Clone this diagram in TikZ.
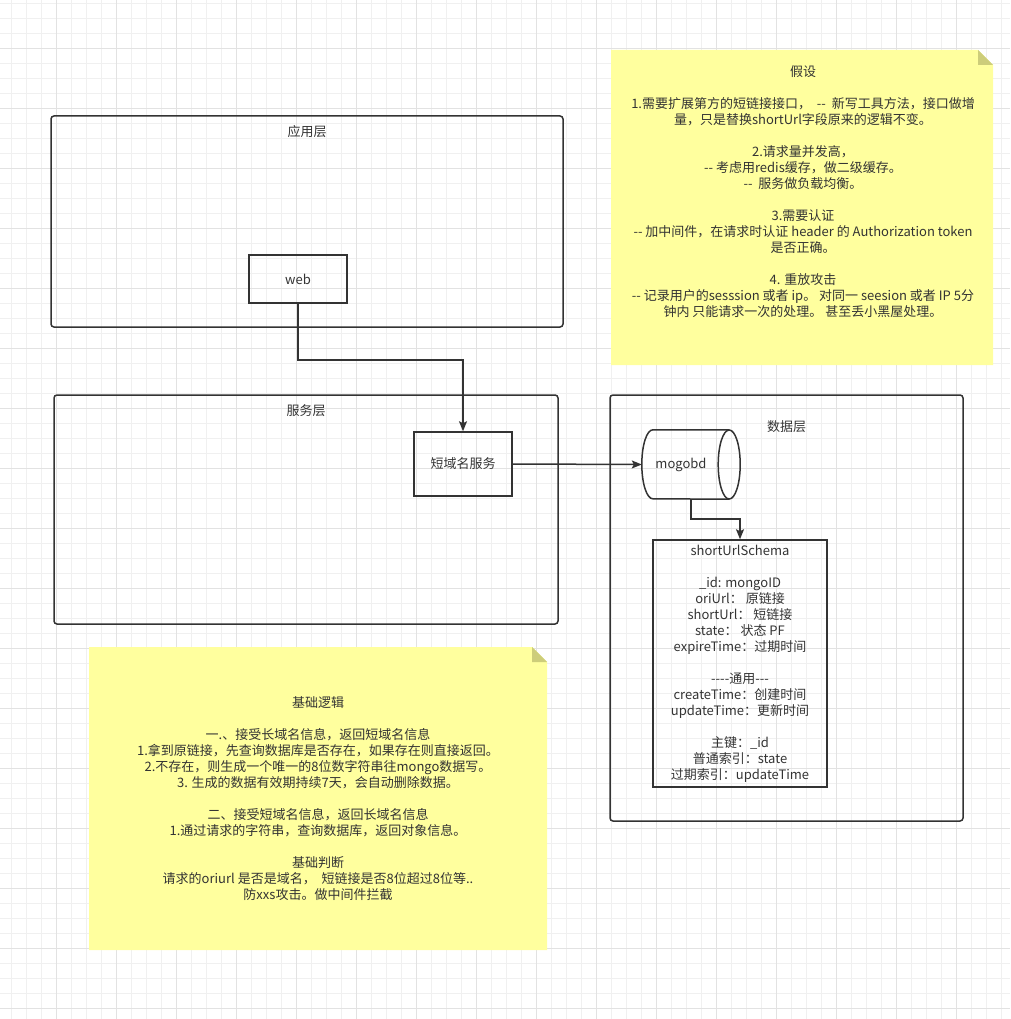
\documentclass[tikz,border=0pt]{standalone}
\usepackage{fontspec}
\setmainfont{Noto Sans CJK SC}
\usetikzlibrary{arrows.meta, positioning}

\definecolor{ink}{HTML}{333333}
\definecolor{notefill}{HTML}{FFFF9E}
\definecolor{notefold}{HTML}{CDCD7A}
\definecolor{gridminor}{HTML}{F0F0F0}
\definecolor{gridmajor}{HTML}{E2E2E2}

\begin{document}
\begin{tikzpicture}[
  x=1pt, y=-1pt,
  every node/.style={font=\fontsize{13}{16}\selectfont, text=ink},
  layer/.style={rectangle, draw=ink, line width=1.5pt, rounded corners=3pt},
  box/.style={rectangle, draw=ink, line width=1.5pt},
  title/.style={inner sep=0pt},
  notetext/.style={align=center, inner sep=0pt},
  arrow/.style={-{Stealth[length=10pt, width=8pt, inset=2pt]}, draw=ink, line width=1.5pt}
]
\useasboundingbox (0,0) rectangle (1010,1019);

% grid
\foreach \gx in {11,26,...,1010} \draw[gridminor, line width=0.8pt] (\gx,0) -- (\gx,1019);
\foreach \gy in {3,18,...,1019} \draw[gridminor, line width=0.8pt] (0,\gy) -- (1010,\gy);
\foreach \gx in {56,116,...,1010} \draw[gridmajor, line width=0.8pt] (\gx,0) -- (\gx,1019);
\foreach \gy in {48,108,...,1019} \draw[gridmajor, line width=0.8pt] (0,\gy) -- (1010,\gy);

% layers
\node[layer, minimum width=512pt, minimum height=211pt] (app) at (307,221.5) {};
\node[title, below=10pt of app.north] (appTitle) {应用层};

\node[layer, minimum width=504pt, minimum height=229pt] (svcLayer) at (306,509.5) {};
\node[title, below=10pt of svcLayer.north] (svcTitle) {服务层};

\node[layer, minimum width=353pt, minimum height=426pt] (dataLayer) at (786.5,608) {};
\node[title, below=26pt of dataLayer.north] (dataTitle) {数据层};

% boxes
\node[box, minimum width=98pt, minimum height=48pt] (web) at (298,279) {web};
\node[box, minimum width=98pt, minimum height=64pt] (svc) at (463,464) {短域名服务};

% mongo cylinder
\node[minimum width=98pt, minimum height=69pt, inner sep=0pt] (db) at (691,464.5) {mogobd\kern20pt};
\draw[ink, line width=1.5pt] ([xshift=-11pt]db.north east) -- ([xshift=11pt]db.north west)
  arc[start angle=90, end angle=270, x radius=11pt, y radius=34.5pt]
  -- ([xshift=-11pt]db.south east);
\draw[ink, line width=1.5pt] ([xshift=-11pt]db.east) ellipse[x radius=11pt, y radius=34.5pt];

\node[box, minimum width=174pt, minimum height=247pt, align=center] (schema) at (740,663.5) {
  shortUrlSchema\\[16pt]
  \_id: mongoID\\
  oriUrl：  原链接\\
  shortUrl：  短链接\\
  state：  状态 PF\\
  expireTime：过期时间\\[16pt]
  -{}-{}-{}-通用-{}-{}-\\
  createTime：创建时间\\
  updateTime：更新时间\\[16pt]
  主键：\_id\\
  普通索引：state\\
  过期索引：updateTime
};

% notes
\fill[notefill] (611,50) -- (978,50) -- (993,65) -- (993,365) -- (611,365) -- cycle;
\fill[notefold] (978,50) -- (993,65) -- (978,65) -- cycle;
\node[notetext] (hypo) at (803,192) {
  假设\\[16pt]
  1.需要扩展第方的短链接接口，\ \ -{}-\ \ 新写工具方法，接口做增\\
  量，只是替换shortUrl字段原来的逻辑不变。\\[16pt]
  2.请求量并发高，\\
  -{}- 考虑用redis缓存，做二级缓存。\\
  -{}-\ \ 服务做负载均衡。\\[16pt]
  3.需要认证\\
  -{}- 加中间件，在请求时认证 header 的 Authorization token\\
  是否正确。\\[16pt]
  4. 重放攻击\\
  -{}- 记录用户的sesssion 或者 ip。 对同一 seesion 或者 IP 5分\\
  钟内 只能请求一次的处理。 甚至丢小黑屋处理。
};

\fill[notefill] (89,647) -- (532,647) -- (547,662) -- (547,950) -- (89,950) -- cycle;
\fill[notefold] (532,647) -- (547,662) -- (532,662) -- cycle;
\node[notetext] (basic) at (318,799) {
  基础逻辑\\[16pt]
  一.、接受长域名信息，返回短域名信息\\
  1.拿到原链接，先查询数据库是否存在，如果存在则直接返回。\\
  2.不存在，则生成一个唯一的8位数字符串往mongo数据写。\\
  3. 生成的数据有效期持续7天，会自动删除数据。\\[16pt]
  二、接受短域名信息，返回长域名信息\\
  1.通过请求的字符串，查询数据库，返回对象信息。\\[16pt]
  基础判断\\
  请求的oriurl 是否是域名，\ \ 短链接是否8位超过8位等..\\
  防xxs攻击。做中间件拦截
};

% connectors
\draw[arrow] (web.south) -- ++(0,56) -| (svc.north);
\draw[arrow] (svc.east) -- (db.west);
\draw[arrow] (db.south) -- ++(0,20) -| (schema.north);

\end{tikzpicture}
\end{document}
